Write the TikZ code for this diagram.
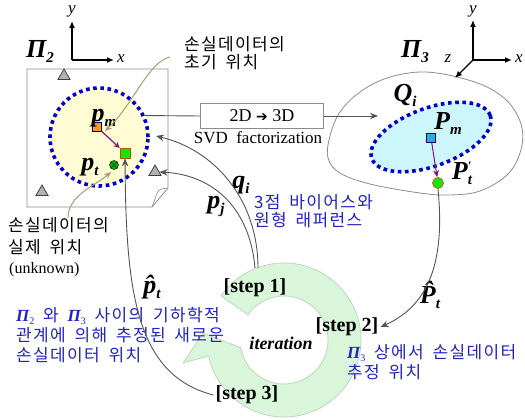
\documentclass[tikz,border=0pt]{standalone}
\usepackage{fontspec}
\setmainfont{Liberation Serif}
\newfontfamily\kr[LetterSpace=8,WordSpace=1.7]{Noto Sans CJK KR}
\newfontfamily\dv{DejaVu Sans}
\usetikzlibrary{arrows.meta,shapes.geometric}
\definecolor{kblue}{RGB}{35,35,190}
\definecolor{dotblue}{RGB}{0,0,205}
\definecolor{yel}{RGB}{255,251,212}
\definecolor{cyanf}{RGB}{205,245,252}
\definecolor{ringf}{RGB}{218,246,218}
\definecolor{ringd}{RGB}{190,215,190}
\definecolor{khaki}{RGB}{170,160,115}
\definecolor{lgray}{RGB}{85,85,85}
\definecolor{pur}{RGB}{130,20,130}
\definecolor{orng}{RGB}{255,150,40}
\definecolor{gsqf}{RGB}{20,230,20}
\definecolor{cyansq}{RGB}{40,175,215}
\newcommand\sub[1]{\raisebox{-5pt}{\fontsize{15}{15}\selectfont #1}}
\newcommand\pisub[1]{{\rmfamily\fontsize{17}{17}\selectfont\bfseries\itshape Π}\raisebox{-3pt}{\rmfamily\fontsize{10}{10}\selectfont #1}}
\tikzset{
  kt/.style={font=\kr\fontsize{17}{18}\selectfont, align=left, inner sep=0pt, anchor=west},
  ml/.style={font=\fontsize{26}{26}\selectfont\bfseries\itshape, inner sep=0pt},
  steplbl/.style={font=\fontsize{20}{20}\selectfont\bfseries, inner sep=2pt},
  conn/.style={draw=lgray, line width=0.9pt, -{Stealth[length=8pt,width=6.5pt]}},
  kconn/.style={draw=khaki, line width=1pt, -{Stealth[length=7pt,width=6pt]}},
  axis/.style={line width=1.3pt, -{Latex[length=7pt,width=6pt]}},
  axlbl/.style={font=\fontsize{17}{17}\selectfont\itshape, inner sep=0pt},
  dotb/.style={draw=dotblue, line width=3.6pt, dash pattern=on 3.6pt off 3.6pt},
  tri/.style={regular polygon, regular polygon sides=3, draw=black!75, fill=black!30, minimum size=14pt, inner sep=0pt, line width=0.8pt},
  sq/.style={minimum size=9pt, inner sep=0pt, line width=0.8pt},
}
\begin{document}
\begin{tikzpicture}[x=1pt,y=-1pt]
\useasboundingbox (0,0) rectangle (525,420);

% iteration ring
\begin{scope}[shift={(284,340)},yscale=-1]
\filldraw[fill=ringf, draw=ringd, line width=0.8pt]
  (145:77) arc[start angle=145, end angle=-168, radius=77]
  -- (-101,-23) -- (-81,7) -- (-170:44)
  arc[start angle=-170, end angle=145, radius=44] -- cycle;
\end{scope}

% Pi2 page
\draw[draw=black!45, line width=0.8pt, fill=white] (27,69) -- (168,69) -- (168,188) -- (152,207) -- (27,207) -- cycle;
\draw[draw=black!45, line width=0.6pt] (168,188) .. controls (160,189) .. (157,193) -- (155,199) .. controls (153,203) .. (152,207);

% Pi3 blob
\draw[draw=black!45, line width=0.8pt] plot[smooth cycle, tension=0.6] coordinates {
 (340,112) (360,92) (387,78) (420,72) (453,76) (487,87) (510,104) (522,128)
 (520,153) (507,175) (480,191) (450,195) (420,193) (370,184) (340,173) (328,158) (330,136)};

% axes
\coordinate (o1) at (72,60);
\coordinate (o1y) at (72,21);
\coordinate (o1x) at (114,60);
\draw[axis] (o1) -- (o1y);
\draw[axis] (o1) -- (o1x);
\node[axlbl] (ly1) at (72,11) {y};
\node[axlbl] (lx1) at (121,59) {x};
\coordinate (o3) at (473,60);
\coordinate (o3y) at (473,20);
\coordinate (o3x) at (512,60);
\coordinate (o3z) at (455,78);
\draw[axis] (o3) -- (o3y);
\draw[axis] (o3) -- (o3x);
\draw[axis] (o3) -- (o3z);
\node[axlbl] (ly3) at (473,11) {y};
\node[axlbl] (lx3) at (519,59) {x};
\node[axlbl] (lz3) at (448,59) {z};

\node[ml] (pi2) at (40,51) {Π\sub{2}};
\node[ml] (pi3) at (415,52) {Π\sub{3}};

% yellow circle
\node[circle, dotb, fill=yel, minimum size=98pt, inner sep=0pt] (c2) at (99,137) {};
% triangles
\node[tri] (t1) at (64,76) {};
\node[tri] (t2) at (155,172) {};
\node[tri] (t3) at (42,192) {};

% cyan ellipse
\begin{scope}[rotate around={20:(431,137)}]
\draw[dotb, fill=cyanf] (431,137) ellipse [x radius=63, y radius=29];
\end{scope}

% markers
\node[sq, draw=black!60!blue, fill=orng] (pm) at (97,127) {};
\node[sq, draw=orange!70!black, fill=gsqf, minimum size=10pt] (gs) at (125,153) {};
\node[circle, draw=green!30!black, fill=green!70!black, minimum size=9pt, inner sep=0pt, line width=0.6pt,
  path picture={\draw[green!20!black, line width=0.5pt] (path picture bounding box.north west) -- (path picture bounding box.south east) (path picture bounding box.south west) -- (path picture bounding box.north east);}] (ptc) at (114,165) {};
\node[sq, draw=black!60!blue, fill=cyansq] (Pm) at (431,138) {};
\node[circle, draw=orange!80!black, fill=gsqf, minimum size=11pt, inner sep=0pt, line width=0.8pt] (Ptp) at (438,183) {};

\draw[pur, line width=1.2pt, -{Stealth[length=6pt,width=6pt]}] (pm) -- (gs);
\draw[pur, line width=1pt, -{Stealth[length=7pt,width=6pt]}] (Pm) -- (Ptp);

% labels
\node[ml] (lpm) at (104,118) {p\sub{m}};
\node[ml] (lpt) at (90,167) {p\sub{t}};
\node[ml] (lQi) at (405,95) {Q\sub{i}};
\node[ml] (lPm) at (448,123) {P\sub{m}};
\node[ml] (lPt) at (462,173) {P\rlap{\raisebox{9pt}{\fontsize{13}{13}\selectfont ′}}\sub{t}};
\node[ml] (lqi) at (241,185) {q\sub{i}};
\node[ml] (lpj) at (216,206) {p\sub{j}};
\node[ml] (lph) at (152,287) {\^{p}\sub{t}};
\node[ml] (lPh) at (430,295) {\^{P}\sub{t}};

% 2D->3D box
\node[draw=black!45, fill=white, minimum width=123pt, minimum height=25pt, inner sep=0pt, line width=0.8pt,
  font=\fontsize{18}{18}\selectfont] (box) at (262,116) {2D {\dv\fontsize{14}{14}\selectfont ➔} 3D};
\node[font=\fontsize{17}{17}\selectfont, inner sep=0pt] (svd) at (258,138) {SVD\ \ factorization};
\coordinate (q3in) at (378,116);
\draw[lgray, line width=0.9pt] (c2.25) -- (box.west);
\draw[conn] (box.east) -- (q3in);

% step labels
\node[steplbl] (s1) at (255,288) {[step 1]};
\node[steplbl] (s2) at (347,327) {[step 2]};
\node[steplbl] (s3) at (247,395) {[step 3]};
\node[font=\fontsize{18}{18}\selectfont\bfseries\itshape, inner sep=0pt] (iter) at (281,343) {iteration};

% texts
\node[kt] (tinit) at (184,53) {손실데이터의\\초기 위치};
\node[kt, font=\kr\fontsize{17}{22}\selectfont] (treal) at (8,236) {손실데이터의\\실제 위치};
\node[font=\fontsize{16}{16}\selectfont, inner sep=0pt, anchor=west] (unk) at (9,270) {(unknown)};
\node[kt, text=kblue] (tbias) at (254,211) {3점 바이어스와\\원형 래퍼런스};
\node[kt, text=kblue, font=\kr\fontsize{17}{20}\selectfont] (tgeo) at (16,335) {\pisub{2} 와 \pisub{3} 사이의 기하학적\\관계에 의해 추정된 새로운\\손실데이터 위치};
\node[kt, text=kblue, font=\kr\fontsize{17}{20}\selectfont] (tpi3) at (347,362) {\pisub{3} 상에서 손실데이터\\추정 위치};

% connectors
\coordinate (k1s) at (170,57);
\coordinate (k1e) at (105,131);
\draw[kconn] (k1s) .. controls (148,62) and (133,105) .. (k1e);
\coordinate (k2s) at (68,218);
\coordinate (k2e) at (111,172);
\draw[kconn] (k2s) .. controls (68,195) and (95,186) .. (k2e);

\coordinate (qs) at (258,268);
\coordinate (ps) at (255,268);
\coordinate (qe) at (156,136);
\draw[conn] (qs) .. controls (258,200) and (215,150) .. (qe);
\draw[conn] (ps) .. controls (250,210) and (215,175) .. (t2.east);
\draw[conn] (s3.west) .. controls (135,375) and (126,290) .. (gs.south);
\draw[conn] (Ptp.south) .. controls (445,260) and (430,305) .. (s2.east);
\end{tikzpicture}
\end{document}
